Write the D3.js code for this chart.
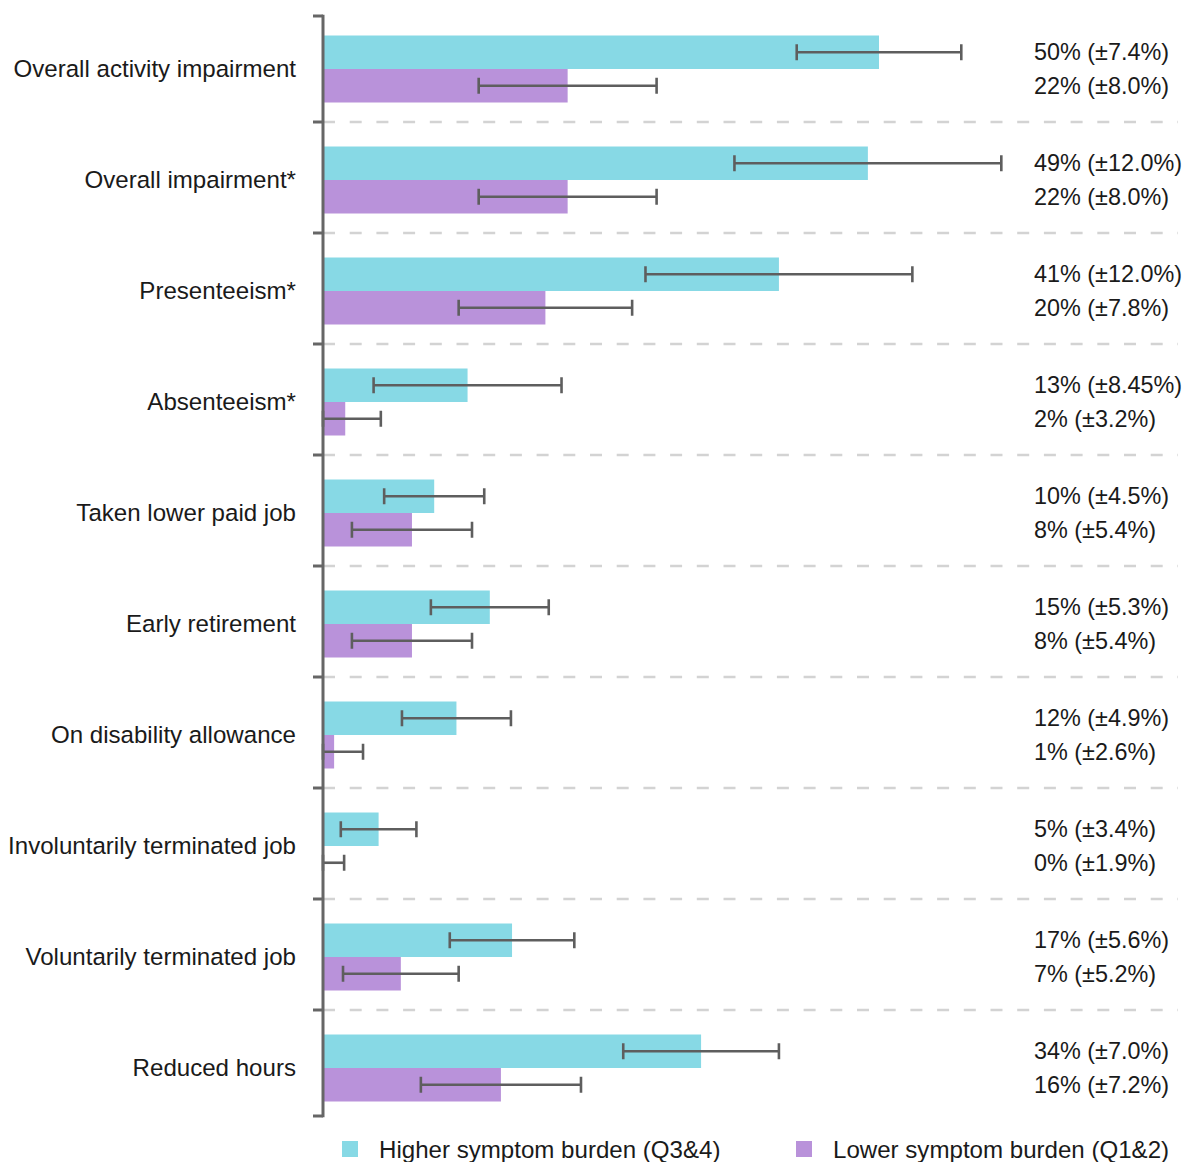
<!DOCTYPE html>
<html>
<head>
<meta charset="utf-8">
<script src="https://cdn.jsdelivr.net/npm/d3@7"></script>
<style>
  html, body { margin: 0; padding: 0; background: #ffffff; }
  svg { display: block; }
  text { font-family: "Liberation Sans", Arial, Helvetica, sans-serif; fill: #1a1a1a; }
</style>
</head>
<body>
<svg id="chart" width="1186" height="1162"></svg>
<script>
// Work-impact outcomes by symptom-burden group (percent of respondents)
const categories = [
  "Overall activity impairment",
  "Overall impairment*",
  "Presenteeism*",
  "Absenteeism*",
  "Taken lower paid job",
  "Early retirement",
  "On disability allowance",
  "Involuntarily terminated job",
  "Voluntarily terminated job",
  "Reduced hours"
];
const seriesNames = ["Higher symptom burden (Q3&4)", "Lower symptom burden (Q1&2)"];
const higherValues = [50, 49, 41, 13, 10, 15, 12, 5, 17, 34];
const higherErrors = [7.4, 12.0, 12.0, 8.45, 4.5, 5.3, 4.9, 3.4, 5.6, 7.0];
const higherErrorLabels = ["7.4", "12.0", "12.0", "8.45", "4.5", "5.3", "4.9", "3.4", "5.6", "7.0"];
const lowerValues = [22, 22, 20, 2, 8, 8, 1, 0, 7, 16];
const lowerErrors = [8.0, 8.0, 7.8, 3.2, 5.4, 5.4, 2.6, 1.9, 5.2, 7.2];
const lowerErrorLabels = ["8.0", "8.0", "7.8", "3.2", "5.4", "5.4", "2.6", "1.9", "5.2", "7.2"];

const colors = ["#87d9e5", "#b992da"];

const svg = d3.select("#chart");
const fontSize = 24.1;
const valueFontSize = 23.4;

const x = d3.scaleLinear().domain([0, 60]).range([323, 990.2]);
const y = d3.scaleBand().domain(categories).range([11, 1121]).padding(0);

const barOffset = 24.5;
const barH = 33.5;
const capH = 16;

const rows = categories.map((c, i) => ({
  cat: c,
  series: [
    { v: higherValues[i], e: higherErrors[i], lbl: higherErrorLabels[i], k: 0 },
    { v: lowerValues[i], e: lowerErrors[i], lbl: lowerErrorLabels[i], k: 1 }
  ]
}));

// dashed separators between categories
svg.append("g").selectAll("line")
  .data(categories.slice(1))
  .join("line")
  .attr("x1", x(0)).attr("x2", 1178)
  .attr("y1", d => y(d)).attr("y2", d => y(d))
  .attr("stroke", "#d3d3d3")
  .attr("stroke-width", 2.5)
  .attr("stroke-dasharray", "12 14.7");

// bars
const groups = svg.append("g").selectAll("g")
  .data(rows)
  .join("g");

groups.selectAll("rect")
  .data(d => d.series.map(s => ({ ...s, cat: d.cat })))
  .join("rect")
  .attr("x", x(0))
  .attr("y", d => y(d.cat) + barOffset + d.k * barH)
  .attr("width", d => x(d.v) - x(0))
  .attr("height", barH)
  .attr("fill", d => colors[d.k]);

// error bars
const errColor = "#5e5e5e";
groups.each(function (d) {
  const g = d3.select(this);
  d.series.forEach(s => {
    const cy = y(d.cat) + barOffset + s.k * barH + barH / 2;
    const lo = x(Math.max(0, s.v - s.e));
    const hi = x(s.v + s.e);
    g.append("line").attr("x1", lo).attr("x2", hi).attr("y1", cy).attr("y2", cy)
      .attr("stroke", errColor).attr("stroke-width", 2.6);
    [lo, hi].forEach(px => {
      g.append("line").attr("x1", px).attr("x2", px)
        .attr("y1", cy - capH / 2).attr("y2", cy + capH / 2)
        .attr("stroke", errColor).attr("stroke-width", 2.6);
    });
    // value label
    g.append("text")
      .attr("x", 1034)
      .attr("y", cy)
      .attr("dy", "0.35em")
      .attr("font-size", valueFontSize)
      .text(`${s.v}% (±${s.lbl}%)`);
  });
  // category label
  g.append("text")
    .attr("x", 296)
    .attr("y", y(d.cat) + barOffset + barH)
    .attr("dy", "0.35em")
    .attr("text-anchor", "end")
    .attr("font-size", fontSize)
    .text(d.cat);
});

// vertical axis with end ticks and category-boundary ticks
const axisG = svg.append("g");
const axisTop = 16, axisBottom = 1116;
axisG.append("line")
  .attr("x1", x(0)).attr("x2", x(0))
  .attr("y1", axisTop - 1.25).attr("y2", axisBottom + 1.25)
  .attr("stroke", "#666666").attr("stroke-width", 3);
const tickYs = [axisTop].concat(categories.slice(1).map(c => y(c))).concat([axisBottom]);
axisG.selectAll("line.tick")
  .data(tickYs)
  .join("line")
  .attr("class", "tick")
  .attr("x1", x(0) - 10).attr("x2", x(0))
  .attr("y1", d => d).attr("y2", d => d)
  .attr("stroke", "#666666").attr("stroke-width", 3);

// legend
const legendX = [342, 796];
const legend = svg.append("g").selectAll("g")
  .data(seriesNames)
  .join("g")
  .attr("transform", (d, i) => `translate(${legendX[i]},1141)`);
legend.append("rect")
  .attr("width", 16).attr("height", 16)
  .attr("fill", (d, i) => colors[i]);
legend.append("text")
  .attr("x", 37).attr("y", 9)
  .attr("dy", "0.35em")
  .attr("font-size", fontSize)
  .text(d => d);
</script>
</body>
</html>
